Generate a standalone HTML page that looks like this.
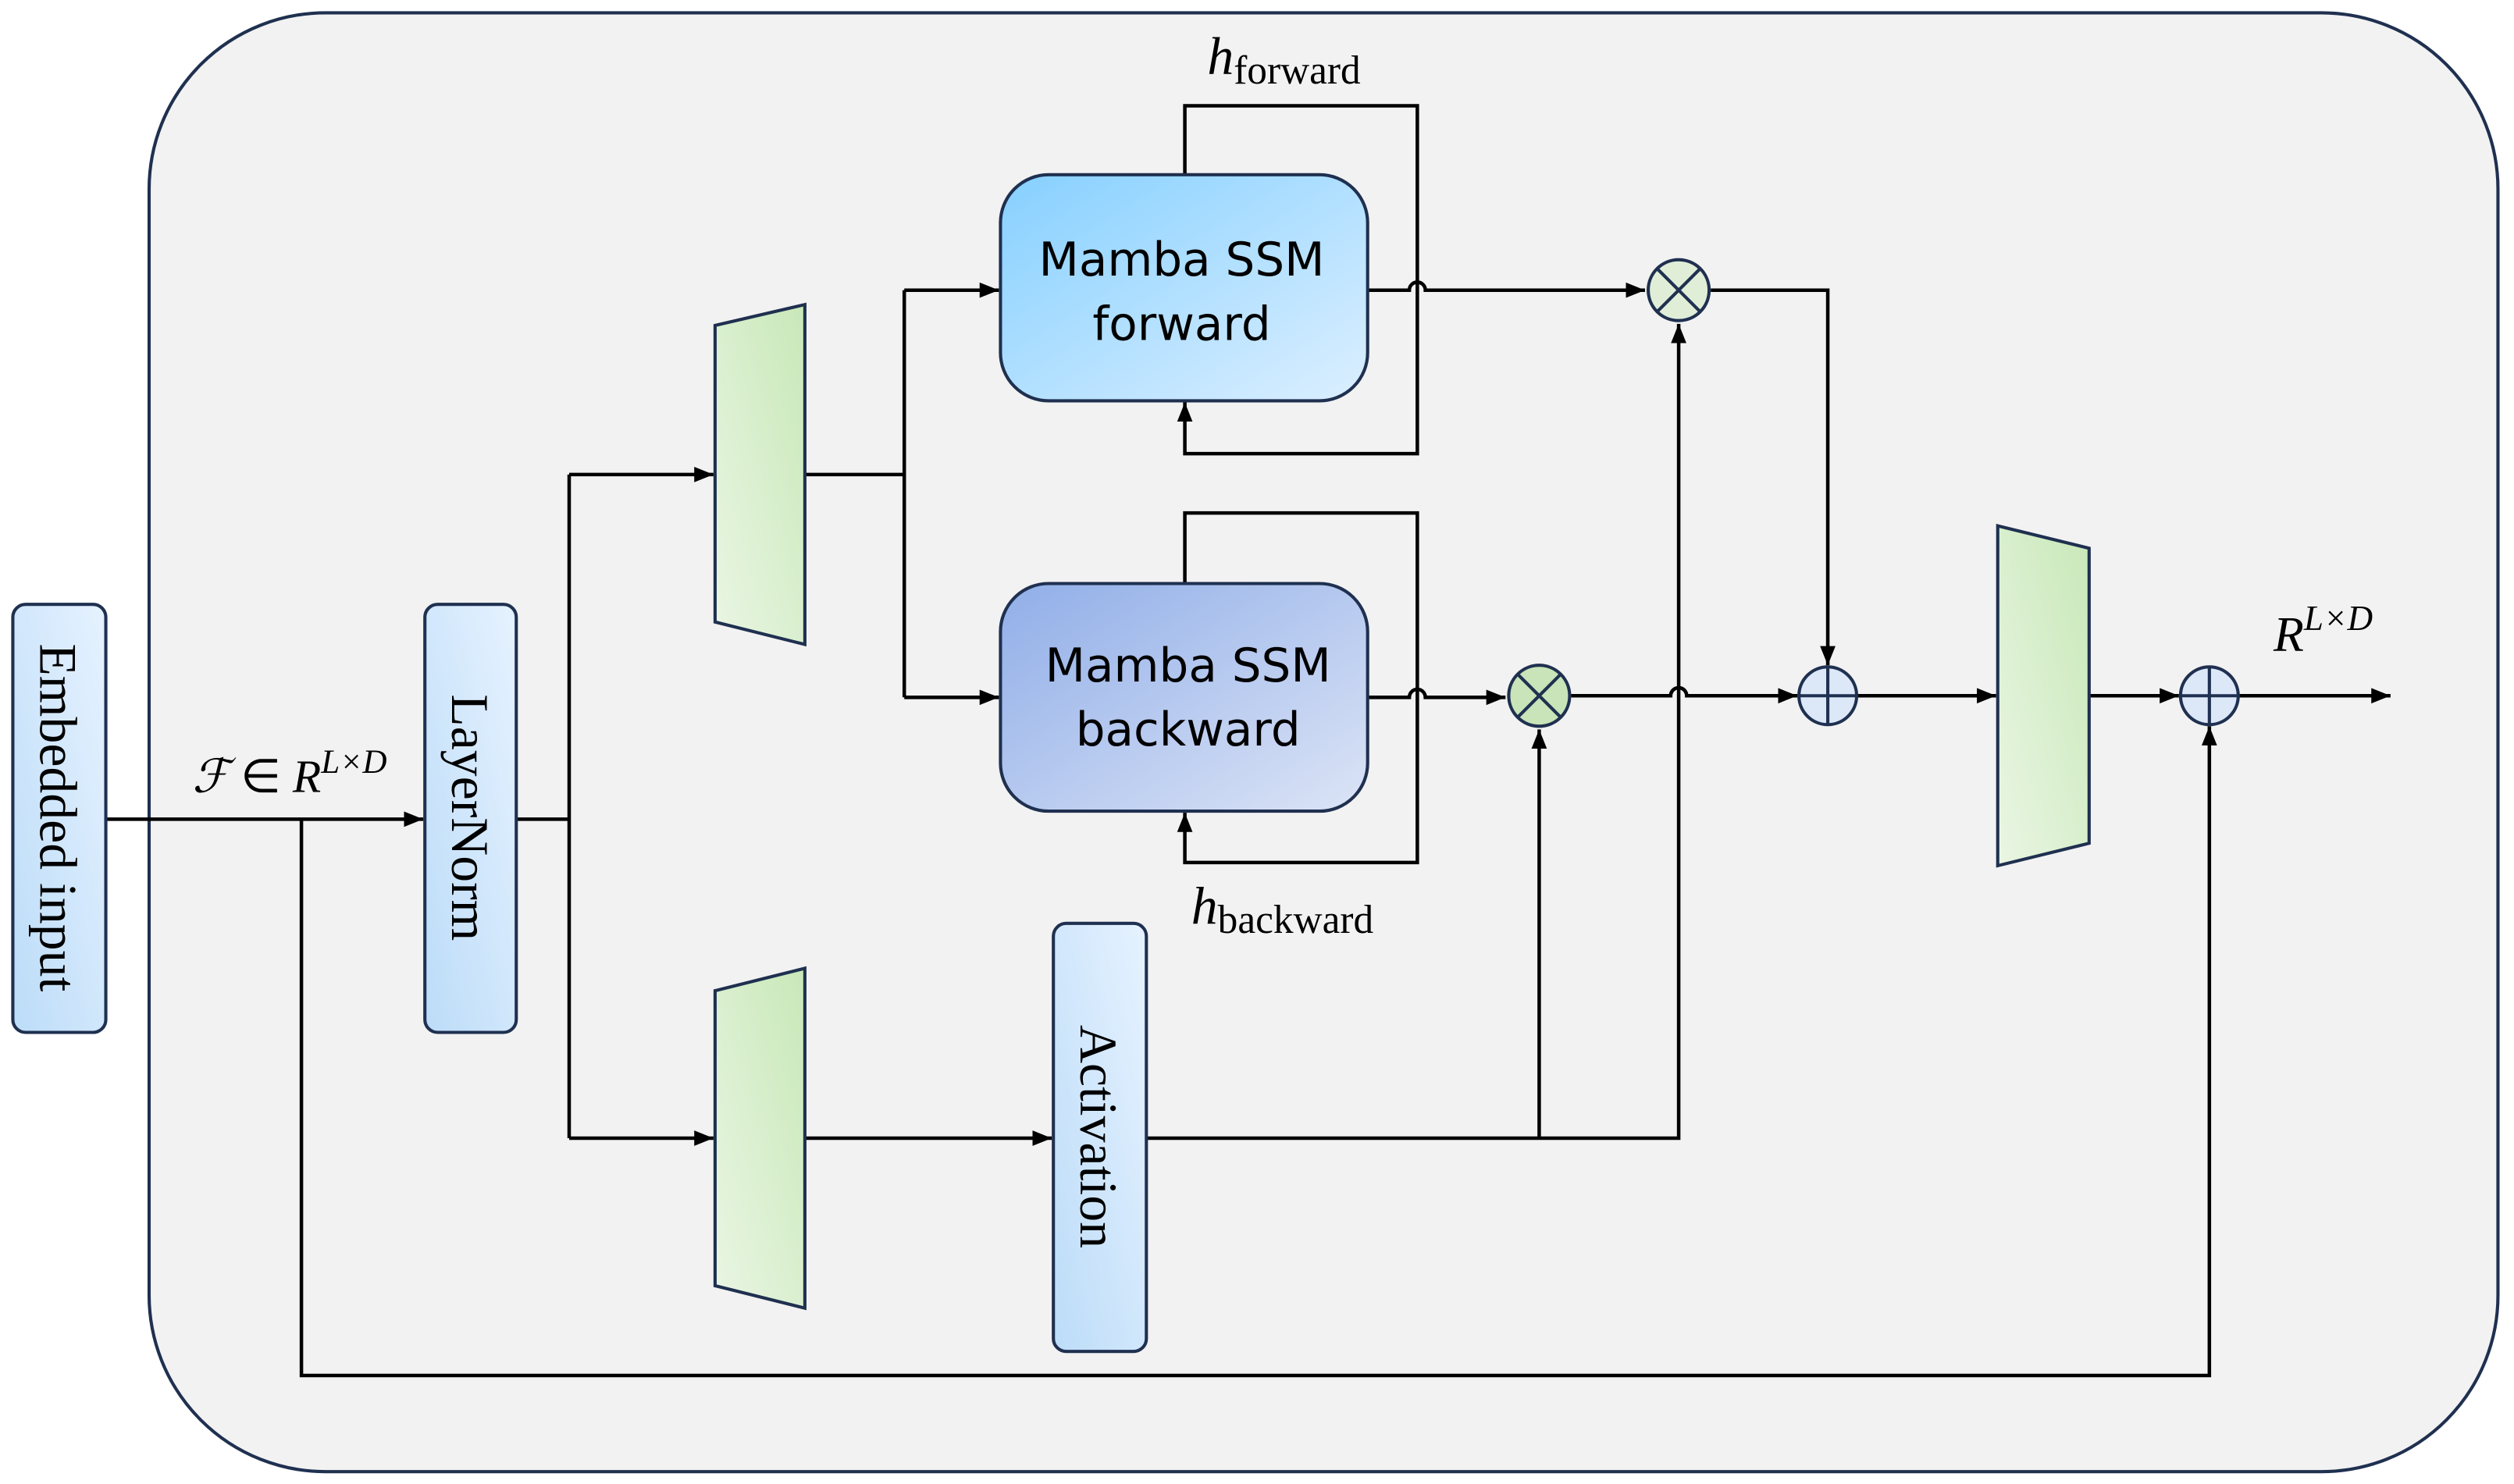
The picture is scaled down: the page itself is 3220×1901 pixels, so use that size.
<!DOCTYPE html>
<html><head><meta charset="utf-8"><style>html,body{margin:0;padding:0;background:#fff}svg{display:block}</style></head>
<body>
<svg width="3220" height="1901" viewBox="0 0 1568 925.7" preserveAspectRatio="none" xmlns="http://www.w3.org/2000/svg">
<defs>
<linearGradient id="gb" x1="0" y1="1" x2="1" y2="0"><stop offset="0" stop-color="#bcdcf8"/><stop offset="1" stop-color="#e6f2ff"/></linearGradient>
<linearGradient id="gg" x1="1" y1="0" x2="0" y2="1"><stop offset="0" stop-color="#c8e8b8"/><stop offset="1" stop-color="#eaf6e4"/></linearGradient>
<linearGradient id="gf" x1="0" y1="0" x2="1" y2="1"><stop offset="0" stop-color="#86d0ff"/><stop offset="1" stop-color="#dcefff"/></linearGradient>
<linearGradient id="gk" x1="0" y1="0" x2="1" y2="1"><stop offset="0" stop-color="#90aee8"/><stop offset="1" stop-color="#dce4f6"/></linearGradient>
<marker id="b" viewBox="0 0 10 10" refX="10" refY="5" markerWidth="12" markerHeight="12" orient="auto" markerUnits="userSpaceOnUse"><path d="M0,1 L10,5 L0,9 z" fill="#000"/></marker>
</defs>
<rect x="93" y="8" width="1465" height="910" rx="110" fill="#f2f2f2" stroke="#1f3050" stroke-width="2"/>
<g fill="none" stroke="#000" stroke-width="2.2">
<path d="M66,511 H264" marker-end="url(#b)"/>
<path d="M188,511 V858 H1378 V453" marker-end="url(#b)"/>
<path d="M322,511 H355"/>
<path d="M355,296 V710"/>
<path d="M355,296 H445" marker-end="url(#b)"/>
<path d="M355,710 H445" marker-end="url(#b)"/>
<path d="M502,296 H564"/>
<path d="M564,181 V435"/>
<path d="M564,181 H623" marker-end="url(#b)"/>
<path d="M564,435 H623" marker-end="url(#b)"/>
<path d="M739,109 V66 H884 V283 H739 V251" marker-end="url(#b)"/>
<path d="M739,364 V320 H884 V538 H739 V507" marker-end="url(#b)"/>
<path d="M853,181 H879 A5,5 0 0 1 889,181 H1026" marker-end="url(#b)"/>
<path d="M853,435 H879 A5,5 0 0 1 889,435 H939" marker-end="url(#b)"/>
<path d="M980,434 H1042 A5,5 0 0 1 1052,434 H1121" marker-end="url(#b)"/>
<path d="M1067,181 H1140 V415" marker-end="url(#b)"/>
<path d="M502,710 H656" marker-end="url(#b)"/>
<path d="M715,710 H1047 V202" marker-end="url(#b)"/>
<path d="M960,710 V455" marker-end="url(#b)"/>
<path d="M1158,434 H1245" marker-end="url(#b)"/>
<path d="M1303,434 H1359" marker-end="url(#b)"/>
<path d="M1396,434 H1491" marker-end="url(#b)"/>
</g>
<g stroke="#1f3050" stroke-width="2">
<rect x="8" y="377" width="58" height="267" rx="8" fill="url(#gb)"/>
<rect x="265" y="377" width="57" height="267" rx="8" fill="url(#gb)"/>
<rect x="657" y="576" width="58" height="267" rx="8" fill="url(#gb)"/>
<polygon points="446,203 502,190 502,402 446,388" fill="url(#gg)"/>
<polygon points="446,618 502,604 502,816 446,802" fill="url(#gg)"/>
<polygon points="1246,328 1303,342 1303,526 1246,540" fill="url(#gg)"/>
<rect x="624" y="109" width="229" height="141" rx="30" fill="url(#gf)"/>
<rect x="624" y="364" width="229" height="142" rx="30" fill="url(#gk)"/>
<circle cx="1047" cy="181" r="19" fill="#e0eed8"/>
<path d="M1034,168 L1060,194 M1060,168 L1034,194" fill="none"/>
<circle cx="960" cy="434" r="19" fill="#c8e4b8"/>
<path d="M947,421 L973,447 M973,421 L947,447" fill="none"/>
<circle cx="1140" cy="434" r="18" fill="#dce8f8"/>
<path d="M1122,434 H1158 M1140,416 V452" fill="none"/>
<circle cx="1378" cy="434" r="18" fill="#dce8f8"/>
<path d="M1360,434 H1396 M1378,416 V452" fill="none"/>
</g>
<g font-family="Liberation Serif, serif" font-size="33" fill="#000">
<text transform="translate(25,510) rotate(90)" text-anchor="middle">Embedded input</text>
<text transform="translate(282,510) rotate(90)" text-anchor="middle">LayerNorm</text>
<text transform="translate(674,709) rotate(90)" text-anchor="middle">Activation</text>
</g>
<g font-family="DejaVu Sans, Liberation Sans, sans-serif" font-size="29" fill="#000" text-anchor="middle">
<text x="737" y="172">Mamba SSM</text>
<text x="737" y="212">forward</text>
<text x="741" y="425">Mamba SSM</text>
<text x="741" y="465">backward</text>
</g>
<g font-family="Liberation Serif, serif" fill="#000">
<text x="120" y="494" font-size="29"><tspan font-style="italic">ℱ</tspan> ∈ <tspan font-style="italic">R</tspan><tspan font-style="italic" font-size="21" dy="-12">L×D</tspan></text>
<text x="1418" y="406" font-size="31" font-style="italic">R<tspan font-size="22" dy="-13">L×D</tspan></text>
<text x="753" y="46" font-size="33" font-style="italic">h<tspan font-style="normal" font-size="25" dy="6">forward</tspan></text>
<text x="743" y="576" font-size="33" font-style="italic">h<tspan font-style="normal" font-size="25" dy="6">backward</tspan></text>
</g>
</svg>
</body></html>
